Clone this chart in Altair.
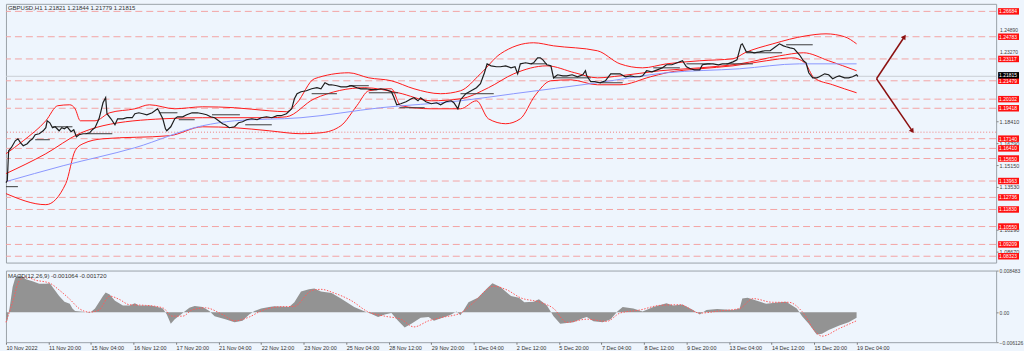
import altair as alt
import pandas as pd

# ---------------- data ----------------
title_main = "GBPUSD,H1  1.21821 1.21844 1.21779 1.21815"
title_macd = "MACD(12,26,9) -0.001064 -0.001720"

x_labels = ["10 Nov 2022", "11 Nov 20:00", "15 Nov 04:00", "16 Nov 12:00", "17 Nov 20:00",
            "21 Nov 04:00", "22 Nov 12:00", "23 Nov 20:00", "25 Nov 04:00", "28 Nov 12:00",
            "29 Nov 20:00", "1 Dec 04:00", "2 Dec 12:00", "5 Dec 20:00", "7 Dec 04:00",
            "8 Dec 12:00", "9 Dec 20:00", "13 Dec 04:00", "14 Dec 12:00", "15 Dec 20:00",
            "19 Dec 04:00"]
label_step = 32  # H1 bars between axis labels

# (bar index, close)
price_path = [
    (0, 1.1384), (1, 1.1399), (2, 1.1623), (4, 1.1646), (7, 1.1698), (9, 1.1713), (11, 1.1683),
    (13, 1.1661), (16, 1.1676), (18, 1.1698), (20, 1.1713), (22, 1.1743), (25, 1.1751), (28, 1.1773),
    (30, 1.1796), (31, 1.1848), (33, 1.1833), (35, 1.1796), (37, 1.1803), (40, 1.1773), (42, 1.1796),
    (44, 1.1788), (46, 1.1803), (49, 1.1766), (51, 1.1781), (53, 1.1728), (55, 1.1743), (58, 1.1751),
    (60, 1.1751), (63, 1.1758), (65, 1.1781), (67, 1.1796), (70, 1.1863), (71, 1.1901), (73, 1.1983),
    (75, 1.2021), (76, 1.1901), (79, 1.1863), (80, 1.1848), (82, 1.1818), (84, 1.1863), (88, 1.1863),
    (91, 1.1871), (95, 1.1871), (97, 1.1901), (100, 1.1908), (103, 1.1901), (106, 1.1893), (110, 1.1908),
    (114, 1.1938), (115, 1.1923), (118, 1.1863), (120, 1.1788), (121, 1.1773), (124, 1.1803), (127, 1.1863),
    (129, 1.1878), (133, 1.1878), (136, 1.1893), (140, 1.1908), (144, 1.1908), (148, 1.1901), (151, 1.1893),
    (154, 1.1878), (157, 1.1871), (160, 1.1848), (163, 1.1826), (165, 1.1818), (168, 1.1796), (172, 1.1803),
    (175, 1.1833), (178, 1.1841), (181, 1.1856), (185, 1.1863), (189, 1.1856), (192, 1.1871), (196, 1.1878),
    (200, 1.1871), (204, 1.1886), (207, 1.1886), (211, 1.1901), (215, 1.1938), (217, 1.2013), (219, 1.2051),
    (222, 1.2066), (226, 1.2073), (230, 1.2088), (234, 1.2096), (237, 1.2088), (240, 1.2133), (243, 1.2118),
    (245, 1.2118), (249, 1.2111), (252, 1.2103), (256, 1.2103), (260, 1.2111), (264, 1.2096), (267, 1.2088),
    (271, 1.2088), (275, 1.2081), (279, 1.2081), (282, 1.2088), (286, 1.2081), (290, 1.2066), (292, 1.2021),
    (294, 1.1968), (297, 1.1976), (301, 1.1991), (305, 1.2013), (307, 1.2021), (310, 1.1998), (312, 1.2021),
    (316, 1.1991), (320, 1.1976), (324, 1.1983), (327, 1.1968), (331, 1.1991), (335, 1.1998), (337, 1.1983),
    (340, 1.1938), (342, 1.2006), (346, 1.2051), (350, 1.2073), (354, 1.2096), (357, 1.2126), (360, 1.2208),
    (362, 1.2275), (365, 1.2260), (369, 1.2253), (372, 1.2253), (376, 1.2260), (380, 1.2245), (383, 1.2253),
    (385, 1.2200), (387, 1.2275), (391, 1.2283), (395, 1.2275), (397, 1.2283), (400, 1.2320), (402, 1.2320),
    (404, 1.2305), (407, 1.2268), (410, 1.2260), (412, 1.2170), (415, 1.2193), (419, 1.2185), (422, 1.2185),
    (426, 1.2193), (430, 1.2178), (434, 1.2193), (436, 1.2223), (437, 1.2185), (440, 1.2141), (443, 1.2141),
    (447, 1.2133), (451, 1.2148), (455, 1.2200), (458, 1.2200), (462, 1.2200), (466, 1.2178), (470, 1.2185),
    (473, 1.2178), (477, 1.2178), (479, 1.2185), (482, 1.2223), (486, 1.2215), (490, 1.2230), (494, 1.2245),
    (497, 1.2268), (501, 1.2268), (505, 1.2283), (509, 1.2298), (512, 1.2253), (515, 1.2238), (518, 1.2230),
    (522, 1.2230), (524, 1.2268), (528, 1.2275), (532, 1.2275), (536, 1.2268), (539, 1.2275), (543, 1.2275),
    (547, 1.2290), (550, 1.2305), (553, 1.2418), (554, 1.2425), (557, 1.2365), (560, 1.2365), (563, 1.2358),
    (567, 1.2365), (571, 1.2373), (575, 1.2373), (578, 1.2395), (582, 1.2425), (585, 1.2410), (587, 1.2403),
    (590, 1.2395), (593, 1.2388), (597, 1.2343), (600, 1.2298), (602, 1.2283), (604, 1.2208), (607, 1.2170),
    (610, 1.2170), (612, 1.2178), (616, 1.2200), (619, 1.2193), (622, 1.2163), (625, 1.2178), (627, 1.2185),
    (631, 1.2170), (634, 1.2170), (637, 1.2178), (640, 1.2193), (641, 1.21815),
]

bb_upper = [(0, 1.1601), (13, 1.1698), (30, 1.1848), (39, 1.1961), (48, 1.1968), (52, 1.1938), (56, 1.1848),
            (67, 1.1848), (78, 1.1908), (97, 1.1938), (108, 1.1968), (127, 1.1938), (148, 1.1953),
            (172, 1.1946), (198, 1.1923), (211, 1.1916), (219, 1.1983), (232, 1.2163), (258, 1.2208),
            (273, 1.2170), (290, 1.2148), (307, 1.2088), (327, 1.2051), (342, 1.2073), (357, 1.2200),
            (372, 1.2350), (397, 1.2433), (412, 1.2410), (445, 1.2373), (462, 1.2275), (479, 1.2245),
            (497, 1.2275), (522, 1.2298), (547, 1.2313), (556, 1.2358), (577, 1.2425), (602, 1.2485),
            (617, 1.2500), (631, 1.2478), (640, 1.2425)]
bb_middle = [(0, 1.1452), (30, 1.1601), (55, 1.1751), (73, 1.1811), (118, 1.1863), (148, 1.1871),
             (198, 1.1871), (211, 1.1878), (232, 1.2013), (270, 1.2096), (295, 1.2058), (320, 1.1998),
             (342, 1.2013), (363, 1.2096), (382, 1.2200), (407, 1.2260), (428, 1.2208), (445, 1.2170),
             (462, 1.2185), (492, 1.2223), (522, 1.2245), (552, 1.2275), (582, 1.2335), (600, 1.2358),
             (619, 1.2298), (640, 1.2223)]
bb_lower = [(0, 1.1302), (30, 1.1219), (45, 1.1377), (52, 1.1623), (58, 1.1676), (73, 1.1713),
            (123, 1.1736), (148, 1.1803), (172, 1.1796), (198, 1.1773), (222, 1.1751), (237, 1.1758),
            (252, 1.1811), (264, 1.1961), (273, 1.2073), (290, 1.2088), (297, 1.1961), (320, 1.1938),
            (342, 1.1938), (354, 1.1998), (363, 1.1863), (376, 1.1826), (387, 1.1863), (398, 1.2036),
            (410, 1.2148), (425, 1.2155), (445, 1.2118), (462, 1.2118), (485, 1.2178), (497, 1.2208),
            (522, 1.2238), (547, 1.2260), (572, 1.2298), (592, 1.2320), (601, 1.2283), (608, 1.2170),
            (622, 1.2118), (640, 1.2058)]
ma_blue = [(0, 1.1392), (43, 1.1511), (97, 1.1646), (148, 1.1811), (172, 1.1848), (222, 1.1871),
           (282, 1.1946), (342, 1.1998), (382, 1.2051), (445, 1.2133), (497, 1.2208), (552, 1.2238),
           (597, 1.2275), (640, 1.2275)]

# (start bar, end bar, price) short black horizontal lines
support_segments = [(0, 9, 1.1354), (22, 33, 1.1706), (35, 50, 1.1803), (60, 80, 1.1751),
                    (115, 129, 1.1908), (130, 142, 1.1856), (155, 176, 1.1893), (180, 200, 1.1818),
                    (230, 249, 1.2051), (258, 273, 1.2111), (273, 295, 1.2058), (296, 315, 1.1946),
                    (342, 367, 1.2051), (395, 407, 1.2275), (412, 440, 1.2170), (447, 464, 1.2133),
                    (487, 507, 1.2245), (512, 530, 1.2275), (542, 562, 1.2275), (557, 584, 1.2358),
                    (587, 607, 1.2418)]

levels = [1.26684, 1.24783, 1.23117, 1.21479, 1.20102, 1.19418, 1.17140, 1.16410,
          1.15650, 1.13963, 1.12736, 1.11830, 1.10550, 1.09209, 1.08323]
dotted_level = 1.17626
current_price = 1.21815
# price-scale labels that are clear of the level boxes
scale_ticks = [1.18410, 1.16790, 1.15150, 1.13530, 1.10290, 1.08670]
# price-scale labels that peek out just above a level box
scale_ticks_peek = [1.24890, 1.23270]

arrow_up = [(655, 1.2163), (676, 1.2478)]
arrow_down = [(655, 1.2163), (682, 1.1770)]

macd_hist = [(0, -0.00176), (1, -0.0018), (3, 0.00138), (5, 0.00515), (7, 0.00703), (11, 0.00754),
             (15, 0.00672), (20, 0.00628), (25, 0.00578), (30, 0.00578), (33, 0.0059), (35, 0.00515),
             (40, 0.00327), (44, 0.00214), (48, 0.0017), (50, 0.00075), (52, 0.00025), (58, 0.0001),
             (63, -0.0002), (67, 0.00075), (73, 0.00327), (75, 0.004), (78, 0.00358), (82, 0.00232),
             (88, 0.00138), (93, 0.00138), (97, 0.00182), (100, 0.00138), (108, 0.00138), (112, 0.00119),
             (118, 0.00075), (121, -0.0005), (124, -0.00239), (127, -0.00144), (133, -0.00019),
             (138, 0.00088), (142, 0.00126), (148, 0.00107), (153, 0.00025), (157, -0.00082),
             (165, -0.00144), (172, -0.00207), (178, -0.00176), (183, -0.0005), (187, 0.00025),
             (192, 0.00075), (198, 0.00107), (202, 0.00119), (213, 0.00107), (217, 0.00201),
             (222, 0.00421), (228, 0.00465), (232, 0.00484), (237, 0.00421), (245, 0.00389),
             (252, 0.00276), (262, 0.00107), (270, 0.00013), (275, -0.00038), (280, -0.001),
             (285, -0.0005), (290, -0.00019), (295, -0.00176), (300, -0.00314), (305, -0.00239),
             (312, -0.00113), (318, -0.001), (322, -0.00176), (330, -0.001), (335, -0.0005),
             (339, 0.00013), (342, -0.00063), (348, 0.00201), (355, 0.00295), (363, 0.00515),
             (366, 0.0059), (372, 0.00515), (380, 0.00327), (386, 0.00295), (390, 0.00201),
             (397, 0.00214), (401, 0.00264), (407, 0.00138), (412, -0.00082), (417, -0.00239),
             (427, -0.00207), (434, -0.00126), (437, -0.001), (442, -0.00188), (449, -0.00207),
             (455, -0.00144), (460, 0.00013), (464, 0.00107), (472, 0.00075), (479, 0.00013),
             (487, 0.00107), (497, 0.00182), (502, 0.00138), (509, 0.00157), (517, 0.00044),
             (522, -0.0005), (527, 0.00044), (535, 0.00063), (547, 0.00044), (552, 0.00075),
             (554, 0.00276), (558, 0.00295), (565, 0.00232), (572, 0.0017), (582, 0.00201),
             (587, 0.00214), (595, 0.00075), (599, -0.00082), (604, -0.00239), (610, -0.00458),
             (614, -0.0044), (619, -0.00364), (627, -0.0027), (634, -0.00207), (640, -0.00113)]
macd_signal = [(0, -0.00207), (5, 0.00201), (10, 0.0064), (15, 0.00716), (22, 0.00653), (33, 0.0059),
               (40, 0.00452), (48, 0.00264), (55, 0.00075), (63, 0.0), (70, 0.00044), (78, 0.00327),
               (85, 0.00264), (93, 0.00151), (105, 0.00138), (118, 0.00088), (125, -0.00082),
               (133, -0.00082), (140, 0.00044), (150, 0.00088), (163, -0.0005), (172, -0.00176),
               (183, -0.001), (192, 0.00025), (205, 0.00107), (217, 0.00119), (230, 0.0044),
               (237, 0.00465), (247, 0.00389), (260, 0.00232), (272, 0.00013), (285, -0.00082),
               (297, -0.00144), (307, -0.00301), (318, -0.00176), (327, -0.00113), (342, -0.0002),
               (352, 0.00201), (367, 0.00528), (377, 0.00452), (387, 0.00295), (402, 0.00201),
               (412, 0.00075), (422, -0.00207), (437, -0.00144), (452, -0.00188), (462, -0.00019),
               (477, 0.00044), (492, 0.00138), (507, 0.00151), (522, -0.00019), (537, 0.00025),
               (552, 0.00075), (562, 0.00276), (577, 0.00201), (589, 0.00201), (599, 0.00013),
               (610, -0.00427), (614, -0.0049), (627, -0.00333), (640, -0.00176)]
macd_top = 0.008483
macd_bottom = -0.006126

# ---------------- styling ----------------
BG = "#eef5fd"
FONT = "Liberation Sans"
W = 995
H_MAIN = 260
H_MACD = 72
X_MAX = 745
Y_MIN, Y_MAX = 1.07848, 1.27249


def pairs(rows, xname="bar", yname="v"):
    return pd.DataFrame(rows, columns=[xname, yname])


xs = alt.Scale(domain=[0, X_MAX], nice=False, zero=False)
ys = alt.Scale(domain=[Y_MIN, Y_MAX], nice=False, zero=False)

X = alt.X("bar:Q", scale=xs, axis=None)
Y = alt.Y("v:Q", scale=ys, title=None,
          axis=alt.Axis(orient="right", values=scale_ticks, format=".5f", labelFontSize=5.5,
                        labelFont=FONT, labelColor="#444444", tickSize=2, tickColor="#888888",
                        labelPadding=1, domain=False, grid=False, labelOverlap=False))

lev_df = pd.DataFrame({"v": levels})
levels_layer = alt.Chart(lev_df).mark_rule(color="#f3a3a3", strokeDash=[7, 4], strokeWidth=1).encode(y=Y)
dotted_layer = alt.Chart(pd.DataFrame({"v": [dotted_level]})).mark_rule(
    color="#f08080", strokeDash=[1, 2], strokeWidth=1).encode(y=Y)
cur_layer = alt.Chart(pd.DataFrame({"v": [current_price]})).mark_rule(
    color="#c9ced4", strokeWidth=1).encode(y=Y)

bands = pd.concat([pairs(bb_upper).assign(band="upper"),
                   pairs(bb_middle).assign(band="middle"),
                   pairs(bb_lower).assign(band="lower")])
bands_layer = alt.Chart(bands).mark_line(color="#ff1a1a", strokeWidth=1, interpolate="monotone").encode(
    x=X, y=Y, detail="band:N")
blue_layer = alt.Chart(pairs(ma_blue)).mark_line(color="#8a96ff", strokeWidth=1, interpolate="monotone").encode(
    x=X, y=Y)

seg_df = pd.DataFrame(support_segments, columns=["bar", "bar2", "v"])
seg_layer = alt.Chart(seg_df).mark_rule(color="#3a3a3a", strokeWidth=1).encode(x=X, x2="bar2:Q", y=Y)

price_layer = alt.Chart(pairs(price_path)).mark_line(color="#1e1e1e", strokeWidth=1.2).encode(x=X, y=Y)

arrows = pd.concat([pairs(arrow_up).assign(a="up"), pairs(arrow_down).assign(a="down")])
arrow_layer = alt.Chart(arrows).mark_line(color="#8b1010", strokeWidth=1.5).encode(x=X, y=Y, detail="a:N")
head_up = alt.Chart(pairs(arrow_up[1:])).mark_point(shape="triangle-up", filled=True, size=30,
                                                  color="#8b1010", opacity=1, angle=34).encode(x=X, y=Y)
head_down = alt.Chart(pairs(arrow_down[1:])).mark_point(shape="triangle-up", filled=True, size=30,
                                                      color="#8b1010", opacity=1, angle=145).encode(x=X, y=Y)

peek_df = pd.DataFrame({"v": scale_ticks_peek, "t": [f"{v:.5f}" for v in scale_ticks_peek]})
peek_layer = alt.Chart(peek_df).mark_text(color="#444444", fontSize=5, font=FONT, align="left",
                                          baseline="middle", dy=-5).encode(x=alt.value(W + 4), y=Y, text="t:N")

lab_df = pd.DataFrame({"v": levels, "t": [f"{v:.5f}" for v in levels]})
box_layer = alt.Chart(lab_df).mark_rule(color="#ff1010", strokeWidth=6.5).encode(
    x=alt.value(W + 2), x2=alt.value(W + 23), y=Y)
boxtxt_layer = alt.Chart(lab_df).mark_text(color="white", fontSize=5, font=FONT, align="left",
                                           baseline="middle").encode(x=alt.value(W + 3), y=Y, text="t:N")
cur_df = pd.DataFrame({"v": [current_price], "t": [f"{current_price:.5f}"]})
curbox_layer = alt.Chart(cur_df).mark_rule(color="#000000", strokeWidth=6.5, yOffset=-1).encode(
    x=alt.value(W + 2), x2=alt.value(W + 23), y=Y)
curtxt_layer = alt.Chart(cur_df).mark_text(color="white", fontSize=5, font=FONT, align="left",
                                           baseline="middle", dy=-1).encode(x=alt.value(W + 3), y=Y, text="t:N")

title_layer = alt.Chart(pd.DataFrame({"t": [title_main]})).mark_text(
    fontSize=6, font=FONT, color="#333333", align="left", baseline="middle").encode(
    x=alt.value(2), y=alt.value(4), text="t:N")

main = alt.layer(levels_layer, dotted_layer, cur_layer, bands_layer, blue_layer, seg_layer, price_layer,
                 arrow_layer, head_up, head_down, peek_layer, box_layer, boxtxt_layer, curbox_layer,
                 curtxt_layer, title_layer).properties(width=W, height=H_MAIN)

# ---------------- MACD panel ----------------
label_expr = "[" + ",".join(f"'{s}'" for s in x_labels) + f"][round(datum.value / {label_step})]"
XM = alt.X("bar:Q", scale=xs, title=None,
           axis=alt.Axis(values=list(range(0, label_step * len(x_labels), label_step)), labelExpr=label_expr,
                         labelAlign="left", labelFontSize=5.5, labelFont=FONT, labelColor="#333333",
                         tickSize=2, tickColor="#777777", labelPadding=1, domain=False, grid=False,
                         labelOverlap=False, labelFlush=False))
ms = alt.Scale(domain=[macd_bottom, macd_top], nice=False, zero=False)
YM = alt.Y("v:Q", scale=ms, title=None,
           axis=alt.Axis(orient="right", values=[macd_top, 0, macd_bottom],
                         labelExpr="datum.value == 0 ? '0.00' : format(datum.value, '.6f')",
                         labelFontSize=5, labelFont=FONT, labelColor="#444444", tickSize=2,
                         tickColor="#888888", labelPadding=1, domain=False, grid=False, labelOverlap=False))

hist_df = pairs(macd_hist).assign(zero=0.0)
hist_layer = alt.Chart(hist_df).mark_area(color="#939393", opacity=1).encode(x=XM, y=YM, y2="zero:Q")
sig_layer = alt.Chart(pairs(macd_signal)).mark_line(color="#ff5a5a", strokeWidth=1, strokeDash=[1.5, 1.5],
                                                    interpolate="monotone").encode(x=XM, y=YM)
mtitle_layer = alt.Chart(pd.DataFrame({"t": [title_macd]})).mark_text(
    fontSize=6, font=FONT, color="#333333", align="left", baseline="middle").encode(
    x=alt.value(2), y=alt.value(5), text="t:N")

macd = alt.layer(hist_layer, sig_layer, mtitle_layer).properties(width=W, height=H_MACD)

chart = alt.vconcat(main, macd, spacing=4).resolve_scale(x="independent", y="independent").properties(
    padding={"left": 3, "top": 2, "right": 0, "bottom": 0},
    background=BG,
).configure_view(stroke="#9aa1a8", strokeWidth=1, fill=BG)

chart.save("out.html", embed_options={"renderer": "svg", "actions": False})
